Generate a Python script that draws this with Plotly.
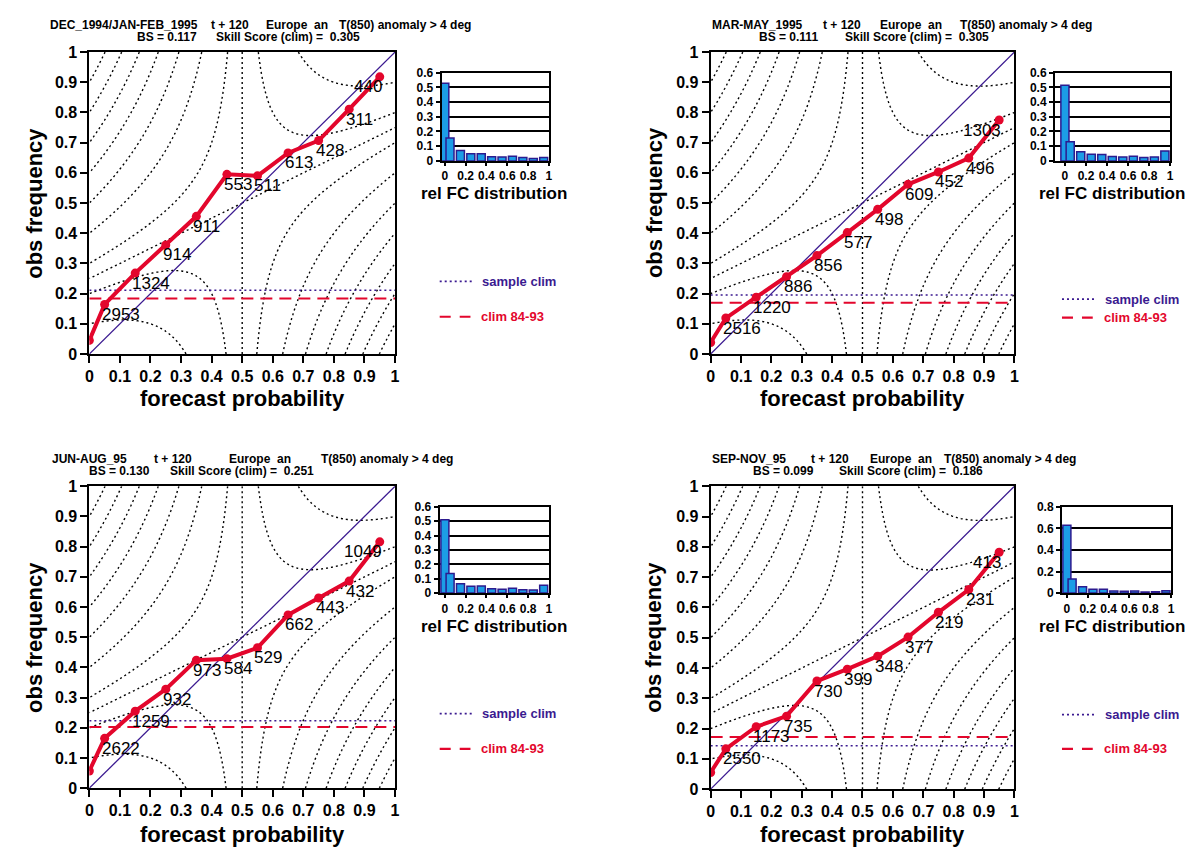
import numpy as np
import plotly.graph_objects as go

W, H = 1197, 854

# ---------------- data ----------------
fc_prob = [0.0, 0.05, 0.15, 0.25, 0.35, 0.45, 0.55, 0.65, 0.75, 0.85, 0.95]
diag = [0.0, 1.0]

obs_djf = [0.045, 0.164, 0.268, 0.361, 0.456, 0.595, 0.590, 0.666, 0.707, 0.811, 0.918]
n_djf = [2953, 1324, 914, 911, 553, 511, 613, 428, 311, 440]
hist_djf = [0.528, 0.156, 0.070, 0.048, 0.048, 0.029, 0.027, 0.032, 0.023, 0.016, 0.023]
sclim_djf = 0.211
clim_djf = 0.184

obs_mam = [0.038, 0.119, 0.188, 0.256, 0.326, 0.402, 0.479, 0.562, 0.603, 0.649, 0.775]
n_mam = [2516, 1220, 886, 856, 577, 498, 609, 452, 496, 1303]
hist_mam = [0.514, 0.130, 0.063, 0.046, 0.044, 0.030, 0.026, 0.031, 0.023, 0.026, 0.067]
sclim_mam = 0.195
clim_mam = 0.170

obs_jja = [0.057, 0.165, 0.255, 0.328, 0.424, 0.429, 0.465, 0.574, 0.630, 0.686, 0.816]
n_jja = [2622, 1259, 932, 973, 584, 529, 662, 443, 432, 1049]
hist_jja = [0.511, 0.136, 0.065, 0.048, 0.050, 0.030, 0.027, 0.034, 0.023, 0.022, 0.054]
sclim_jja = 0.223
clim_jja = 0.203

obs_son = [0.055, 0.133, 0.206, 0.241, 0.357, 0.396, 0.439, 0.502, 0.584, 0.659, 0.782]
n_son = [2550, 1173, 735, 730, 399, 348, 377, 219, 231, 413]
hist_son = [0.630, 0.130, 0.060, 0.037, 0.037, 0.020, 0.018, 0.019, 0.011, 0.012, 0.021]
sclim_son = 0.143
clim_son = 0.172

title_djf = [("DEC_1994/JAN-FEB_1995", "t + 120", "Europe\u00a0 an", "T(850) anomaly > 4 deg"),
             ("BS = 0.117", "Skill Score (clim) =\u00a0 0.305")]
title_mam = [("MAR-MAY_1995", "t + 120", "Europe\u00a0 an", "T(850) anomaly > 4 deg"),
             ("BS = 0.111", "Skill Score (clim) =\u00a0 0.305")]
title_jja = [("JUN-AUG_95", "t + 120", "Europe\u00a0 an", "T(850) anomaly > 4 deg"),
             ("BS = 0.130", "Skill Score (clim) =\u00a0 0.251")]
title_son = [("SEP-NOV_95", "t + 120", "Europe\u00a0 an", "T(850) anomaly > 4 deg"),
             ("BS = 0.099", "Skill Score (clim) =\u00a0 0.186")]

main_ticks = [0, 0.1, 0.2, 0.3, 0.4, 0.5, 0.6, 0.7, 0.8, 0.9, 1]

# ---------------- styles / layout geometry (pixels) ----------------
RED = "#e3062c"
PURPLE = "#3b1a90"
BAR = "#1c9de6"
BAR_EDGE = "#2c1b8f"
FONT = "Liberation Sans, Arial, sans-serif"

panels = [
    dict(obs=obs_djf, n=n_djf, hist=hist_djf, sclim=sclim_djf, clim=clim_djf, title=title_djf,
         main=(86, 394, 45, 353), ins=(441, 549, 66, 156), ins_x0=-0.03, hmax=0.6, hdt=0.1,
         t1x=(45, 208, 263, 337), t2x=(133, 213), ty=(17.5, 29.5),
         leg=(439, 279, 315), relx=494, rely=189, ylab=30, xlab=398),
    dict(obs=obs_mam, n=n_mam, hist=hist_mam, sclim=sclim_mam, clim=clim_mam, title=title_mam,
         main=(712, 1018, 45, 353), ins=(1059, 1175, 66, 156), ins_x0=-0.094, hmax=0.6, hdt=0.1,
         t1x=(712, 824, 882, 962), t2x=(760, 846), ty=(17.5, 29.5),
         leg=(1066, 297, 316), relx=1116, rely=189, ylab=655, xlab=398),
    dict(obs=obs_jja, n=n_jja, hist=hist_jja, sclim=sclim_jja, clim=clim_jja, title=title_jja,
         main=(86, 394, 488, 796), ins=(439, 549, 509, 597), ins_x0=-0.05, hmax=0.6, hdt=0.1,
         t1x=(47, 150, 226, 318), t2x=(85, 166), ty=(460.5, 472.5),
         leg=(439, 720, 756), relx=494, rely=631, ylab=30, xlab=843),
    dict(obs=obs_son, n=n_son, hist=hist_son, sclim=sclim_son, clim=clim_son, title=title_son,
         main=(712, 1018, 488, 797), ins=(1066, 1176, 509, 597), ins_x0=-0.047, hmax=0.8, hdt=0.2,
         t1x=(712, 812, 872, 946), t2x=(754, 840), ty=(460.5, 472.5),
         leg=(1066, 721, 756), relx=1116, rely=631, ylab=655, xlab=843),
]


def fx(px):
    return px / W


def fy(py):
    return 1 - py / H


# Brier-score field for the background isolines
g = np.linspace(0, 1, 240)
P, O = np.meshgrid(g, g)
BSF = P ** 2 - 2 * O * P + O

fig = go.Figure()
annotations = []
shapes = []
layout = dict(width=W, height=H, margin=dict(l=0, r=0, t=0, b=0), autosize=False,
              paper_bgcolor="white", plot_bgcolor="white", showlegend=False)


def ann(px, py, text, font, xanchor="center", textangle=0):
    return dict(x=fx(px), y=fy(py), xref="paper", yref="paper", text=text, showarrow=False,
                xanchor=xanchor, yanchor="middle", textangle=textangle, font=font, borderpad=0)


for i, pn in enumerate(panels):
    k = i + 1
    kk = i + 5
    xa, ya = f"x{k}", f"y{k}"
    xb, yb = f"x{kk}", f"y{kk}"
    x0, x1, y0, y1 = pn["main"]

    # isolines
    fig.add_trace(go.Contour(x=g, y=g, z=BSF, xaxis=xa, yaxis=ya, showscale=False, hoverinfo="skip",
                             contours=dict(start=0.1, end=0.9, size=0.1, coloring="none"),
                             line=dict(color="black", width=1.4, dash="2px,3px")))
    fig.add_trace(go.Contour(x=g, y=g, z=BSF, xaxis=xa, yaxis=ya, showscale=False, hoverinfo="skip",
                             contours=dict(start=0.25, end=0.25, size=0.1, coloring="none"),
                             line=dict(color="black", width=1.4, dash="2px,3px")))
    # diagonal
    fig.add_trace(go.Scatter(x=diag, y=diag, xaxis=xa, yaxis=ya, mode="lines",
                             line=dict(color=PURPLE, width=1.3), hoverinfo="skip"))
    # clim lines
    fig.add_trace(go.Scatter(x=diag, y=[pn["sclim"]] * 2, xaxis=xa, yaxis=ya, mode="lines",
                             line=dict(color=PURPLE, width=1.5, dash="2px,3px"), hoverinfo="skip"))
    fig.add_trace(go.Scatter(x=diag, y=[pn["clim"]] * 2, xaxis=xa, yaxis=ya, mode="lines",
                             line=dict(color=RED, width=2, dash="12px,7px"), hoverinfo="skip"))
    # reliability curve
    fig.add_trace(go.Scatter(x=fc_prob, y=pn["obs"], xaxis=xa, yaxis=ya, mode="lines+markers",
                             line=dict(color=RED, width=4), marker=dict(color=RED, size=9),
                             hoverinfo="skip"))
    # count labels
    nlab = len(pn["n"])
    for j, cnt in enumerate(pn["n"]):
        last = j == nlab - 1
        annotations.append(dict(x=fc_prob[j + 1], y=pn["obs"][j + 1], xref=xa, yref=ya,
                                text=str(cnt), showarrow=False,
                                xanchor="right" if last else "left", yanchor="middle",
                                xshift=3 if last else -4, yshift=-10, borderpad=0,
                                font=dict(family=FONT, size=17, color="black")))
    # histogram
    fig.add_trace(go.Bar(x=fc_prob, y=pn["hist"], xaxis=xb, yaxis=yb, width=0.077,
                         marker=dict(color=BAR, line=dict(color=BAR_EDGE, width=1.5)),
                         hoverinfo="skip"))

    tickfont = dict(family=FONT, size=16, color="black", weight="bold")
    layout[f"xaxis{k}"] = dict(domain=[fx(x0), fx(x1)], range=[0, 1], anchor=ya,
                               tickvals=main_ticks, showgrid=False, zeroline=False,
                               showline=True, mirror=True, linecolor="black", linewidth=2,
                               ticks="outside", ticklen=7, tickwidth=2, tickcolor="black",
                               tickfont=tickfont)
    layout[f"yaxis{k}"] = dict(domain=[fy(y1), fy(y0)], range=[0, 1], anchor=xa,
                               tickvals=main_ticks, showgrid=False, zeroline=False,
                               showline=True, mirror=True, linecolor="black", linewidth=2,
                               ticks="outside", ticklen=7, tickwidth=2, tickcolor="black",
                               tickfont=tickfont)
    bx0, bx1, by0, by1 = pn["ins"]
    sfont = dict(family=FONT, size=12, color="black", weight="bold")
    layout[f"xaxis{kk}"] = dict(domain=[fx(bx0), fx(bx1)], range=[pn["ins_x0"], 1], anchor=yb,
                                tick0=0, dtick=0.2, showgrid=False, zeroline=False,
                                showline=True, mirror=True, linecolor="black", linewidth=2,
                                ticks="outside", ticklen=3, tickwidth=1.5, tickcolor="black",
                                tickfont=sfont)
    layout[f"yaxis{kk}"] = dict(domain=[fy(by1), fy(by0)], range=[0, pn["hmax"]], anchor=xb,
                                tick0=0, dtick=pn["hdt"], showgrid=True, gridcolor="black",
                                gridwidth=2, zeroline=False,
                                showline=True, mirror=True, linecolor="black", linewidth=2,
                                ticks="outside", ticklen=4, tickwidth=1.5, tickcolor="black",
                                tickfont=sfont)

    # titles
    tfont = dict(family=FONT, size=12, color="black", weight="bold")
    for txt, px in zip(pn["title"][0], pn["t1x"]):
        annotations.append(ann(px, pn["ty"][0], txt, tfont, xanchor="left"))
    for txt, px in zip(pn["title"][1], pn["t2x"]):
        annotations.append(ann(px, pn["ty"][1], txt, tfont, xanchor="left"))
    # axis titles
    big = dict(family=FONT, size=22, color="black", weight="bold")
    annotations.append(ann(pn["ylab"], (y0 + y1) / 2, "obs frequency", big, textangle=-90))
    annotations.append(ann((x0 + x1) / 2, pn["xlab"], "forecast probability", big))
    annotations.append(ann(pn["relx"], pn["rely"], "rel FC distribution",
                           dict(family=FONT, size=17, color="black", weight="bold")))
    # legend
    lx, ly1, ly2 = pn["leg"]
    shapes.append(dict(type="line", xref="paper", yref="paper", x0=fx(lx), x1=fx(lx + 34),
                       y0=fy(ly1), y1=fy(ly1), line=dict(color=PURPLE, width=1.8, dash="2px,3px")))
    shapes.append(dict(type="line", xref="paper", yref="paper", x0=fx(lx), x1=fx(lx + 31),
                       y0=fy(ly2), y1=fy(ly2), line=dict(color=RED, width=2.2, dash="11px,9px")))
    annotations.append(ann(lx + 42, ly1, "sample clim",
                           dict(family=FONT, size=13, color=PURPLE, weight="bold"), xanchor="left"))
    annotations.append(ann(lx + 41, ly2, "clim 84-93",
                           dict(family=FONT, size=13, color=RED, weight="bold"), xanchor="left"))

layout["annotations"] = annotations
layout["shapes"] = shapes
fig.update_layout(**layout)
fig.write_html("out.html")
